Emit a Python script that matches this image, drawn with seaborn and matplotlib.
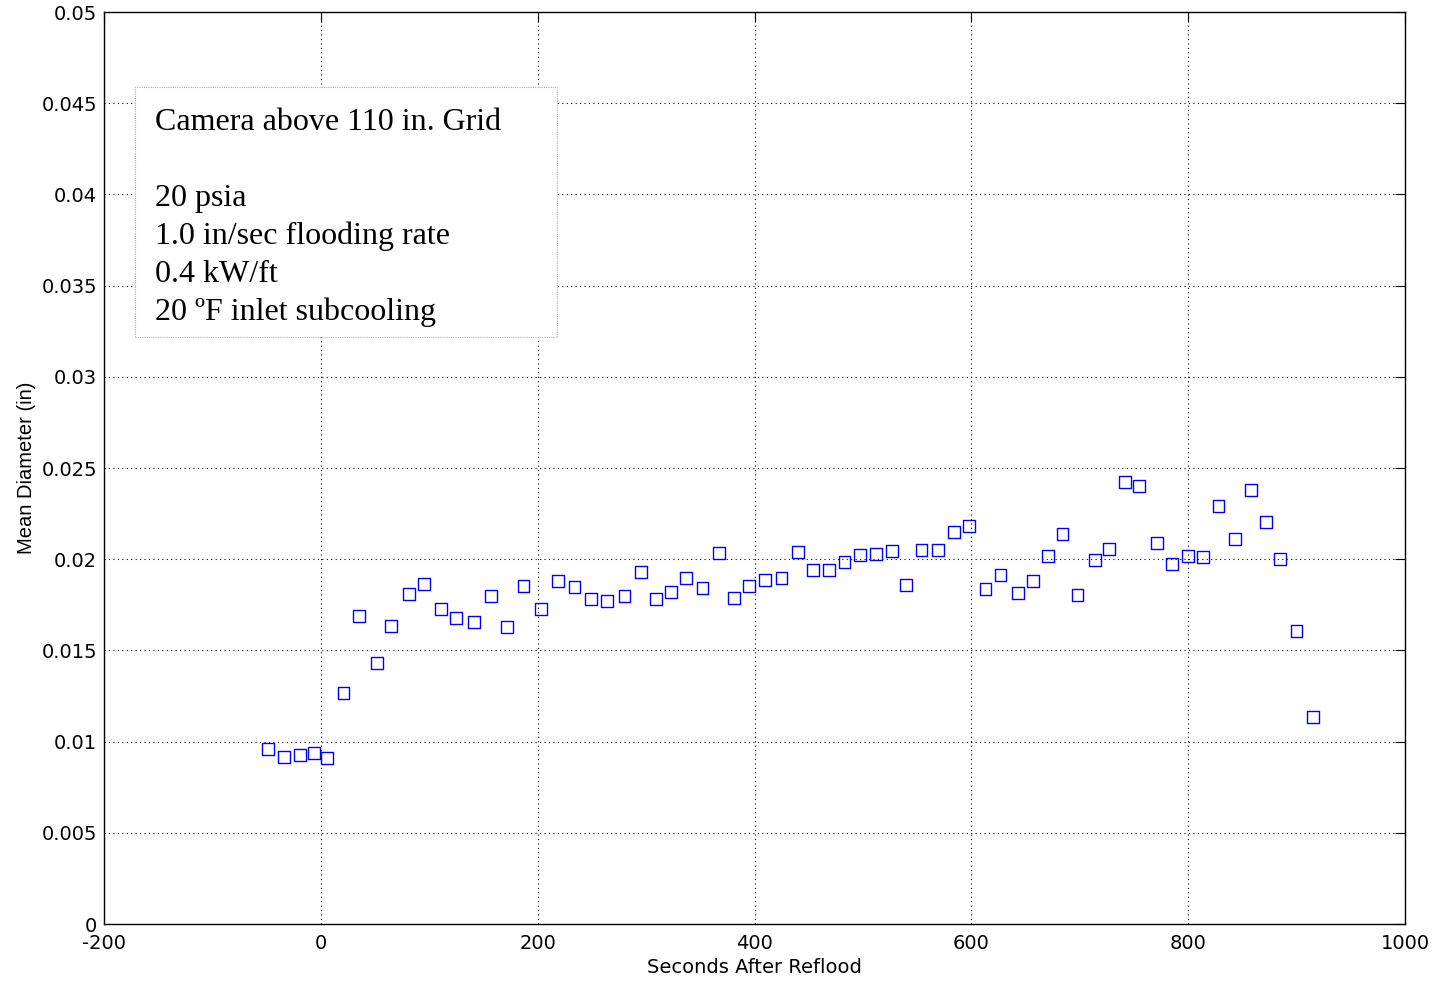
import matplotlib
matplotlib.use('Agg')
import matplotlib.pyplot as plt
import matplotlib.ticker as mticker
from matplotlib.patches import Rectangle
import pandas as pd
import seaborn as sns

seconds = [-49, -34, -19, -6, 6, 21, 35, 52, 65, 81, 95, 111, 125, 141, 157,
           172, 187, 203, 219, 234, 249, 264, 280, 295, 309, 323, 337, 352,
           367, 381, 395, 410, 425, 440, 454, 469, 483, 497, 512, 527, 540,
           554, 569, 584, 598, 613, 627, 643, 657, 671, 684, 698, 714, 727,
           742, 755, 771, 785, 800, 814, 828, 843, 858, 872, 885, 900, 915]
diameter = [0.00959, 0.00916, 0.00927, 0.00938, 0.00910, 0.01266, 0.01689,
            0.01431, 0.01634, 0.01809, 0.01864, 0.01727, 0.01678, 0.01656,
            0.01798, 0.01628, 0.01853, 0.01727, 0.01880, 0.01848, 0.01782,
            0.01771, 0.01798, 0.01930, 0.01782, 0.01820, 0.01897, 0.01842,
            0.02034, 0.01787, 0.01853, 0.01886, 0.01897, 0.02040, 0.01941,
            0.01941, 0.01985, 0.02023, 0.02029, 0.02045, 0.01859, 0.02050,
            0.02050, 0.02149, 0.02182, 0.01837, 0.01913, 0.01815, 0.01880,
            0.02018, 0.02138, 0.01804, 0.01996, 0.02056, 0.02423, 0.02401,
            0.02089, 0.01974, 0.02018, 0.02012, 0.02292, 0.02111, 0.02379,
            0.02204, 0.02001, 0.01606, 0.01135]
xticks = [-200, 0, 200, 400, 600, 800, 1000]
yticks = [0, 0.005, 0.01, 0.015, 0.02, 0.025, 0.03, 0.035, 0.04, 0.045, 0.05]
note_lines = ['Camera above 110 in. Grid', '', '20 psia',
              '1.0 in/sec flooding rate', '0.4 kW/ft',
              '20 \u00baF inlet subcooling']

df = pd.DataFrame({'t': seconds, 'd': diameter})

sns.set_style('white')
plt.rcParams['font.family'] = ['DejaVu Sans']
plt.rcParams['xtick.direction'] = 'in'
plt.rcParams['ytick.direction'] = 'in'
plt.rcParams['text.color'] = 'black'

fig = plt.figure(figsize=(14.38, 9.81), dpi=100)
ax = fig.add_axes([104 / 1438, 57 / 981, 1301 / 1438, 912 / 981])

sns.scatterplot(data=df, x='t', y='d', marker='s', s=72, facecolors='none',
                edgecolors='blue', linewidth=1.0, ax=ax, zorder=3)

ax.set_xlim(-200, 1000)
ax.set_ylim(0, 0.05)
ax.set_xticks(xticks)
ax.set_yticks(yticks)
ax.yaxis.set_major_formatter(mticker.FormatStrFormatter('%g'))
ax.xaxis.set_major_formatter(mticker.FormatStrFormatter('%g'))
ax.tick_params(labelsize=14, length=7, width=0.8, top=True, right=True,
               pad=5, colors='black')
ax.tick_params(axis='x', pad=7)
ax.grid(True, linestyle=(0, (1, 3)), color='black', linewidth=0.8)
for sp in ax.spines.values():
    sp.set_visible(True)
    sp.set_color('black')
    sp.set_linewidth(1.0)

ax.set_xlabel('Seconds After Reflood', fontsize=14, labelpad=4,
              color='black')
ax.set_ylabel('Mean Diameter (in)', fontsize=14.5, labelpad=4,
              color='black', family=['Liberation Sans', 'DejaVu Sans'])

# note box in the upper left
ax.add_patch(Rectangle((31 / 1301, (924 - 337) / 912), 422 / 1301, 250 / 912,
                       transform=ax.transAxes, facecolor='white',
                       edgecolor='#b0b0b0', linestyle=(0, (1, 1)),
                       linewidth=0.8, zorder=4))
ax.text((155 - 104) / 1301, (924 - 108) / 912,
        '\n'.join(note_lines), transform=ax.transAxes, fontsize=23,
        family=['Liberation Serif', 'DejaVu Serif'], va='top', ha='left',
        color='black', linespacing=1.4, zorder=5)

fig.savefig('out.png', dpi=100)
